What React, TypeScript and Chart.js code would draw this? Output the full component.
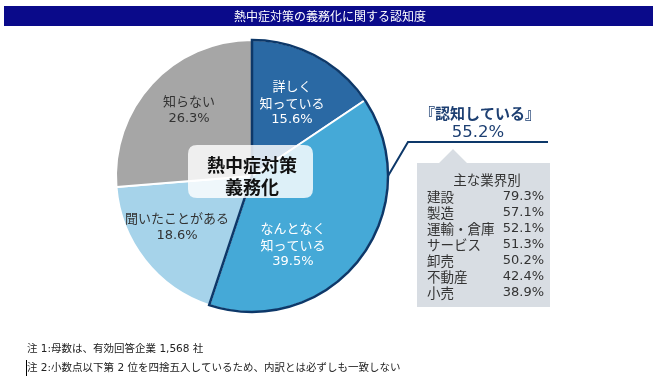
import { useEffect, useRef } from 'react';
import { Chart, registerables } from 'chart.js';

Chart.register(...registerables);

const title = '熱中症対策の義務化に関する認知度';
const categories = ['詳しく\n知っている', 'なんとなく\n知っている', '聞いたことがある', '知らない'];
const values = [15.6, 39.5, 18.6, 26.3];
const sliceColors = ['#2a69a4', '#45a9d7', '#a6d3ea', '#a6a6a6'];
const labelColors = ['#ffffff', '#ffffff', '#333333', '#333333'];
const centerLabel = ['熱中症対策', '義務化'];
const groupLabel = '『認知している』';
const groupValue = 55.2;
const boxTitle = '主な業界別';
const industries = ['建設', '製造', '運輸・倉庫', 'サービス', '卸売', '不動産', '小売'];
const industryValues = [79.3, 57.1, 52.1, 51.3, 50.2, 42.4, 38.9];
const notes = [
  '注 1:母数は、有効回答企業 1,568 社',
  '注 2:小数点以下第 2 位を四捨五入しているため、内訳とは必ずしも一致しない',
];

const FONT = '"Noto Sans CJK JP", "Noto Sans", sans-serif';
const NUMFONT = '"DejaVu Sans", "Noto Sans CJK JP", sans-serif';
const NAVY = '#0d3869';
// label block offsets relative to pie center, as fraction of the radius
const labelOffsets = [
  [0.294, -0.537],
  [0.301, 0.507],
  [-0.551, 0.375],
  [-0.463, -0.485],
];

function roundRect(ctx: CanvasRenderingContext2D, x: number, y: number, w: number, h: number, r: number) {
  ctx.beginPath();
  ctx.moveTo(x + r, y);
  ctx.lineTo(x + w - r, y);
  ctx.quadraticCurveTo(x + w, y, x + w, y + r);
  ctx.lineTo(x + w, y + h - r);
  ctx.quadraticCurveTo(x + w, y + h, x + w - r, y + h);
  ctx.lineTo(x + r, y + h);
  ctx.quadraticCurveTo(x, y + h, x, y + h - r);
  ctx.lineTo(x, y + r);
  ctx.quadraticCurveTo(x, y, x + r, y);
  ctx.closePath();
}

const overlay = {
  id: 'overlay',
  afterDraw(chart: any) {
    const ctx: CanvasRenderingContext2D = chart.ctx;
    const arcs = chart.getDatasetMeta(0).data as any[];
    const a0 = arcs[0];
    const cx = a0.x;
    const cy = a0.y;
    const R = a0.outerRadius;
    ctx.save();

    // title bar
    ctx.fillStyle = '#0a0a8a';
    ctx.fillRect(4, 6, 649, 20);
    ctx.fillStyle = '#ffffff';
    ctx.font = `12px ${FONT}`;
    ctx.textAlign = 'center';
    ctx.textBaseline = 'middle';
    ctx.fillText(title, 330, 16.5);

    // group outline (first two slices)
    ctx.beginPath();
    ctx.moveTo(cx, cy);
    ctx.arc(cx, cy, R, a0.startAngle, arcs[1].endAngle);
    ctx.closePath();
    ctx.strokeStyle = NAVY;
    ctx.lineWidth = 2.5;
    ctx.lineJoin = 'miter';
    ctx.stroke();

    // slice labels
    ctx.textAlign = 'center';
    ctx.textBaseline = 'middle';
    categories.forEach((c, i) => {
      const names = c.split('\n');
      const lines = [...names, values[i].toFixed(1) + '%'];
      const lx = cx + labelOffsets[i][0] * R;
      const ly = cy + labelOffsets[i][1] * R;
      const lh = 17;
      ctx.fillStyle = labelColors[i];
      lines.forEach((t, j) => {
        ctx.font = j < names.length ? `13px ${FONT}` : `13px ${NUMFONT}`;
        ctx.fillText(t, lx, ly + (j - (lines.length - 1) / 2) * lh);
      });
    });

    // center box
    ctx.fillStyle = 'rgba(255,255,255,0.82)';
    roundRect(ctx, cx - 64, cy - 31, 125, 53, 9);
    ctx.fill();
    ctx.fillStyle = '#111111';
    ctx.font = `bold 18px ${FONT}`;
    ctx.fillText(centerLabel[0], cx, cy - 11);
    ctx.fillText(centerLabel[1], cx, cy + 11);

    // callout
    ctx.fillStyle = '#1d3f72';
    ctx.font = `bold 15px ${FONT}`;
    ctx.fillText(groupLabel, 480, 113);
    ctx.font = `16.5px ${NUMFONT}`;
    ctx.fillText(groupValue.toFixed(1) + '%', 478, 133);

    ctx.beginPath();
    ctx.moveTo(cx + R, cy);
    ctx.lineTo(408, 142);
    ctx.lineTo(548, 142);
    ctx.strokeStyle = NAVY;
    ctx.lineWidth = 2;
    ctx.stroke();

    // info box
    ctx.fillStyle = '#d8dde3';
    ctx.beginPath();
    ctx.moveTo(417, 163);
    ctx.lineTo(439, 163);
    ctx.lineTo(453, 149);
    ctx.lineTo(467, 163);
    ctx.lineTo(550, 163);
    ctx.lineTo(550, 307);
    ctx.lineTo(417, 307);
    ctx.closePath();
    ctx.fill();

    ctx.fillStyle = '#333333';
    ctx.font = `13.5px ${FONT}`;
    ctx.textAlign = 'center';
    ctx.fillText(boxTitle, 487, 180);
    industries.forEach((name, i) => {
      const y = 197 + i * 16;
      ctx.textAlign = 'left';
      ctx.font = `13.5px ${FONT}`;
      ctx.fillText(name, 427, y);
      ctx.textAlign = 'right';
      ctx.font = `13px ${NUMFONT}`;
      ctx.fillText(industryValues[i].toFixed(1) + '%', 544, y);
    });

    // notes
    ctx.fillStyle = '#222222';
    ctx.font = `10.5px ${NUMFONT}`;
    ctx.textAlign = 'left';
    ctx.fillText(notes[0], 27, 349);
    ctx.fillText(notes[1], 27, 368);
    ctx.fillStyle = '#000000';
    ctx.fillRect(26, 360, 1, 16);

    ctx.restore();
  },
};

export default function App() {
  const ref = useRef<HTMLCanvasElement>(null);
  useEffect(() => {
    document.body.style.margin = '0';
    const chart = new Chart(ref.current!, {
      type: 'pie',
      data: {
        labels: categories.map((c) => c.replace('\n', '')),
        datasets: [
          {
            data: values,
            backgroundColor: sliceColors,
            borderColor: '#ffffff',
            borderWidth: 2,
          },
        ],
      },
      options: {
        animation: false,
        responsive: false,
        radius: 136,
        layout: { padding: { left: 116, right: 271, top: 40, bottom: 68 } },
        plugins: { legend: { display: false }, tooltip: { enabled: false } },
      } as any,
      plugins: [overlay],
    });
    return () => chart.destroy();
  }, []);
  return <canvas ref={ref} width={659} height={380} style={{ display: 'block' }} />;
}
